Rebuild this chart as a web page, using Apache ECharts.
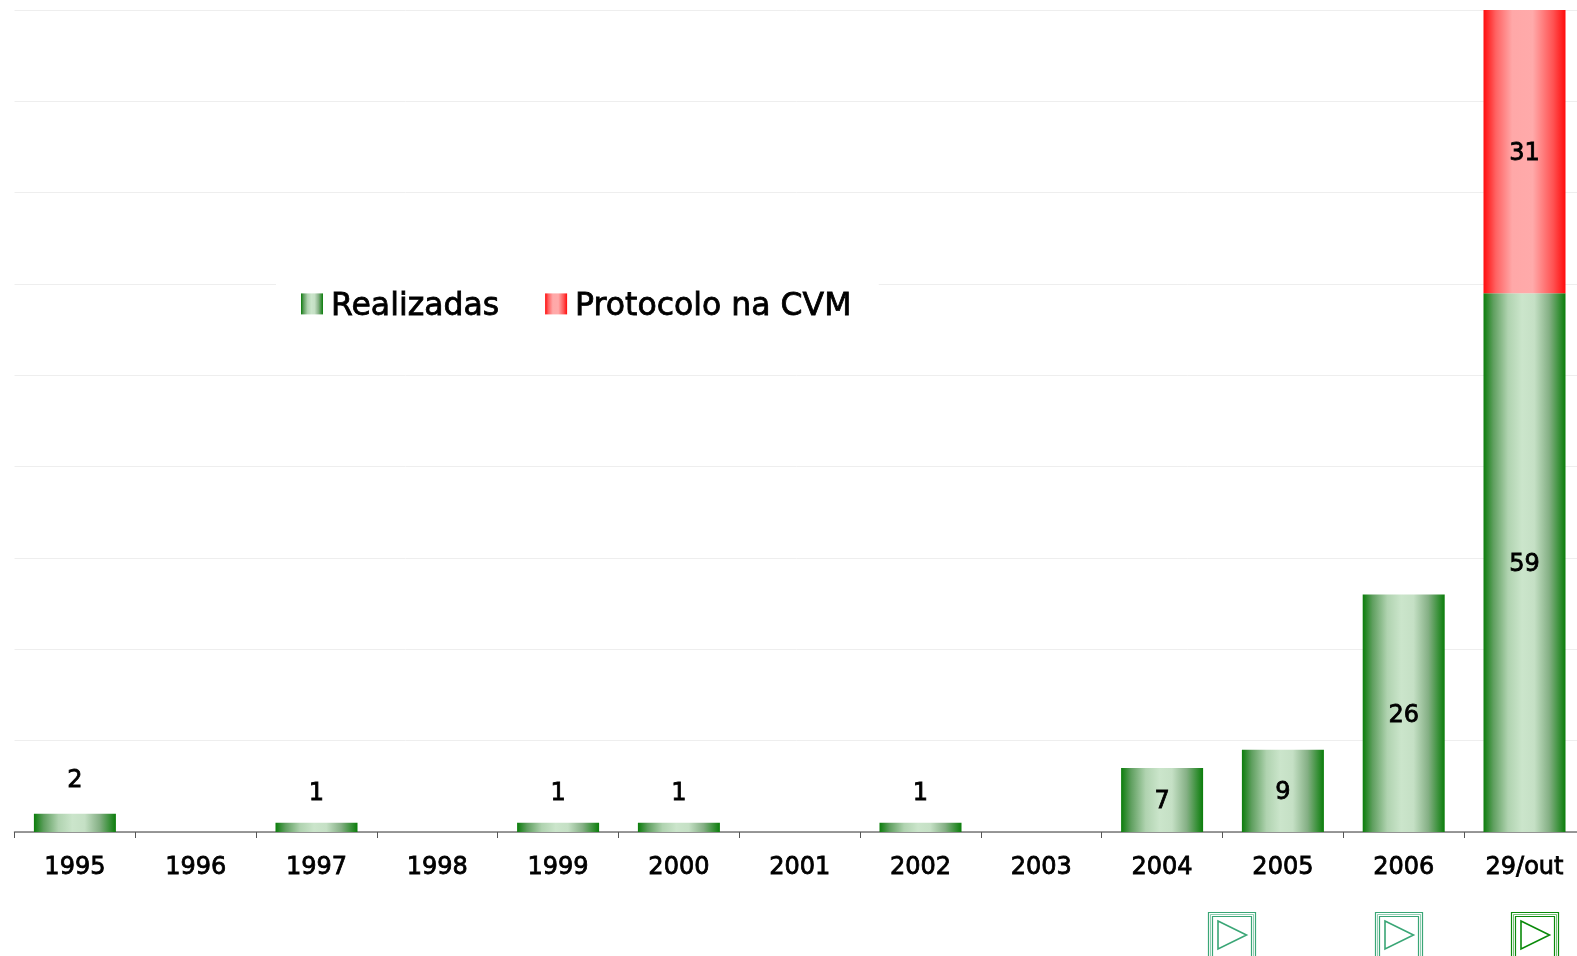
<!DOCTYPE html>
<html><head><meta charset="utf-8">
<script src="https://cdn.jsdelivr.net/npm/echarts@6/dist/echarts.min.js"></script>
<style>html,body{margin:0;padding:0;background:#fff;overflow:hidden}#c{width:1577px;height:956px}</style>
</head><body><div id="c"></div>
<script>
const categories = ['1995','1996','1997','1998','1999','2000','2001','2002','2003','2004','2005','2006','29/out'];
const realizadas = [2,null,1,null,1,1,null,1,null,7,9,26,59];
const protocolo = [null,null,null,null,null,null,null,null,null,null,null,null,31];
const seriesNames = ['Realizadas','Protocolo na CVM'];
const FONT = '"DejaVu Sans", sans-serif';
function grad(stops){
  return {type:'linear',x:0,y:0,x2:1,y2:0,colorStops:stops.map(s=>({offset:s[0],color:s[1]}))};
}
const greenGrad = grad([[0,'#0a7d0a'],[0.12,'#5f9f5f'],[0.3,'#b0d3b0'],[0.47,'#cbe5cb'],[0.62,'#c5e0c5'],[0.8,'#85b085'],[1,'#0a7d0a']]);
const redGrad = grad([[0,'#ff0c0c'],[0.15,'#ff6262'],[0.35,'#ffa8a8'],[0.6,'#ffaaaa'],[0.85,'#ff5252'],[1,'#ff0c0c']]);
function button(x, color){
  const y = 912, w = 47, h = 48;
  const st = {fill:'none',stroke:color};
  return [
    {type:'rect',shape:{x:x+.5,y:y+.5,width:w,height:h},style:{...st,lineWidth:1.2}},
    {type:'rect',shape:{x:x+2.5,y:y+2.5,width:w-4,height:h-4},style:{...st,lineWidth:1,opacity:0.55}},
    {type:'rect',shape:{x:x+4.5,y:y+4.5,width:w-8,height:h-8},style:{...st,lineWidth:1.2}},
    {type:'polygon',shape:{points:[[x+10,y+9],[x+38.5,y+23],[x+10,y+37]]},style:{fill:'none',stroke:color,lineWidth:1.6}}
  ];
}
const bold = {textBorderColor:'#000',textBorderWidth:0.8};
const labelBase = {show:true,color:'#000',fontFamily:FONT,fontSize:24,...bold};
const chart = echarts.init(document.getElementById('c'),null,{renderer:'canvas'});
chart.setOption({
  animation:false,
  backgroundColor:'#fff',
  grid:{left:14.5,top:10,width:1570.4,height:822,containLabel:false,outerBoundsMode:'none'},
  legend:{
    left:276,top:269,
    padding:[21,27,21,25],
    backgroundColor:'#fff',
    icon:'rect',
    itemWidth:22,itemHeight:21,itemGap:45.5,
    selectedMode:false,
    formatter:n=>`{a|${n}}`,
    textStyle:{fontFamily:FONT,fontSize:31.5,color:'#000',...bold,
      rich:{a:{fontFamily:FONT,fontSize:31.5,color:'#000',padding:[5,0,0,3],...bold}}},
    data:seriesNames
  },
  xAxis:{
    type:'category',data:categories,
    axisLine:{lineStyle:{color:'#777',width:1.5}},
    axisTick:{show:true,length:6,lineStyle:{color:'#555',width:1}},
    axisLabel:{interval:0,margin:23.5,color:'#000',fontFamily:FONT,fontSize:24,hideOverlap:false,...bold},
    splitLine:{show:false}
  },
  yAxis:{
    type:'value',min:0,max:90,interval:10,
    axisLine:{show:false},axisTick:{show:false},axisLabel:{show:false},
    splitLine:{show:true,lineStyle:{color:'#eeeeee',width:1}}
  },
  series:[
    {name:seriesNames[0],type:'bar',stack:'t',barWidth:82,
     itemStyle:{color:greenGrad},
     data:realizadas.map(v=>{
       if(v==null) return null;
       return v<7
         ? {value:v,label:{...labelBase,position:'top',distance:v===1?17:21}}
         : {value:v,label:{...labelBase,position:'inside',offset:[0,2]}};
     })},
    {name:seriesNames[1],type:'bar',stack:'t',barWidth:82,
     itemStyle:{color:redGrad},
     label:{...labelBase,position:'inside',offset:[0,2]},
     data:protocolo}
  ],
  graphic:{elements:[
    ...button(1208,'#3aa676'),
    ...button(1375,'#3aa676'),
    ...button(1511,'#0a8a0a')
  ]}
});
</script></body></html>
